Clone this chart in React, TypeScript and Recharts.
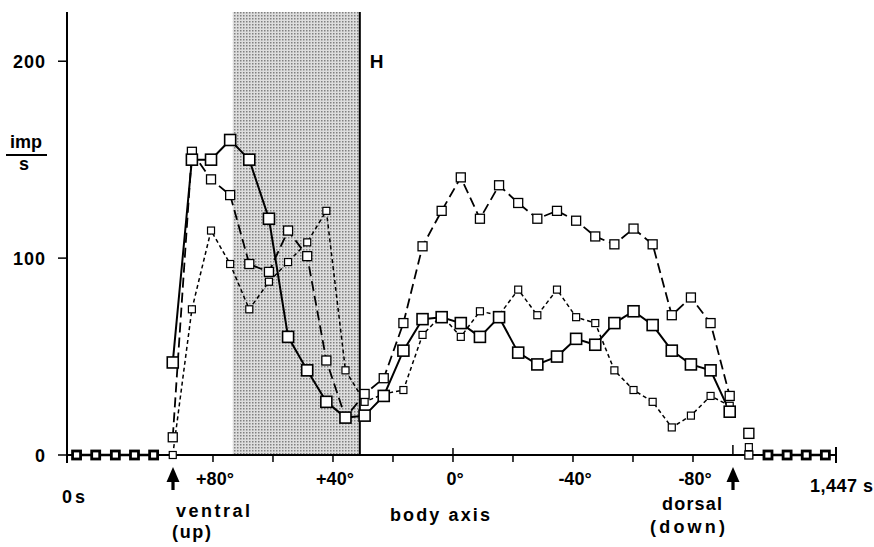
import React from 'react';
import { ComposedChart, Line, XAxis, YAxis, ReferenceArea, ReferenceLine } from 'recharts';

// Bin centre times (s) of the 40 samples over the 1,447 s run
const times = [18, 54, 91, 127, 163, 199, 235, 271, 307, 343, 380, 416, 452, 488, 524, 560, 596, 633, 669, 705,
  741, 777, 813, 849, 885, 922, 958, 994, 1030, 1066, 1102, 1138, 1174, 1211, 1247, 1283, 1319, 1355, 1391, 1427];

// index of the first sample of the rotation traces
const SERIES_START = 5;

// imp/s, large squares, solid line
const solidValues = [47, 150, 150, 160, 150, 120, 60, 43, 27, 19, 20, 30, 53, 69, 70, 67, 60, 70, 52, 46,
  50, 59, 56, 67, 73, 66, 53, 46, 43, 22];
// imp/s, medium squares, long dashes
const dashedValues = [9, 154, 140, 132, 97, 93, 114, 101, 48, 19, 31, 39, 67, 106, 124, 141, 120, 137, 128, 120,
  124, 119, 111, 107, 115, 107, 71, 80, 67, 30];
// imp/s, small squares, short dashes
const dottedValues = [0, 74, 114, 97, 74, 88, 98, 108, 124, 43, 27, 31, 33, 61, 71, 60, 73, 71, 84, 71,
  84, 70, 67, 43, 33, 27, 14, 20, 30, 25];

// resting discharge before and after the rotation
const baselineBefore = [0, 0, 0, 0, 0];
const baselineAfter = [0, 0, 0, 0];
const AFTER_START = 36;

// single samples just after the dorsal stop
const AFTER_DORSAL_INDEX = 35;
const afterDorsalLarge = 11;
const afterDorsalSmall = 4;
const afterDorsalZero = 0;

// angle ticks (degrees) and their labels
const degreeTicks = [80, 60, 40, 20, 0, -20, -40, -60, -80];
const degreeLabels: Record<string, string> = { '80': '+80°', '40': '+40°', '0': '0°', '-40': '-40°', '-80': '-80°' };
const ZERO_DEG_S = 726.3;
const S_PER_DEG = 5.645;
const RUN_END_S = 1447;
const DORSAL_S = 1253;
const HOLD_START_S = 312;
const HOLD_END_S = 551;

const yTicks = [0, 100, 200];

const degToSec = (d: number) => ZERO_DEG_S - d * S_PER_DEG;
const xTicks = [0, ...degreeTicks.map(degToSec), DORSAL_S, RUN_END_S];

const inRange = (arr: number[], start: number, k: number) =>
  k >= start && k < start + arr.length ? arr[k - start] : null;

const data = times.map((t, k) => ({
  t,
  solid: inRange(solidValues, SERIES_START, k),
  dashed: inRange(dashedValues, SERIES_START, k),
  dotted: inRange(dottedValues, SERIES_START, k),
  base: k < baselineBefore.length ? baselineBefore[k] : inRange(baselineAfter, AFTER_START, k),
  postL: k === AFTER_DORSAL_INDEX ? afterDorsalLarge : null,
  postS: k === AFTER_DORSAL_INDEX ? afterDorsalSmall : null,
  postZ: k === AFTER_DORSAL_INDEX ? afterDorsalZero : null,
}));

const FONT = '"Liberation Sans", Arial, Helvetica, sans-serif';

const squareDot = (size: number, sw: number, name: string) => (props: any) => {
  const { cx, cy, index, value } = props;
  if (cx == null || cy == null || value == null || Number.isNaN(cy)) return <g key={`${name}-${index}`} />;
  return (
    <rect key={`${name}-${index}`} x={cx - size / 2} y={cy - size / 2} width={size} height={size}
      fill="#fff" stroke="#000" strokeWidth={sw} />
  );
};

const XTick = (props: any) => {
  const { x, y, payload } = props;
  const v = payload.value as number;
  if (v === 0 || v === RUN_END_S) {
    return <line x1={x} x2={x} y1={y - 8} y2={y + 8} stroke="#000" strokeWidth={2} />;
  }
  if (v === DORSAL_S) {
    return <line x1={x} x2={x} y1={y - 10} y2={y} stroke="#000" strokeWidth={1.5} />;
  }
  const deg = Math.round((ZERO_DEG_S - v) / S_PER_DEG);
  const label = degreeLabels[String(deg)];
  return (
    <g>
      <line x1={x} x2={x} y1={deg === 0 ? y - 7 : y} y2={y + 7} stroke="#000" strokeWidth={1.5} />
      {label && (
        <text x={x + 2} y={y + 30} textAnchor="middle" fontFamily={FONT} fontSize={18} fontWeight="bold" fill="#000">
          {label}
        </text>
      )}
    </g>
  );
};

const YTick = (props: any) => {
  const { x, y, payload } = props;
  return (
    <g>
      <line x1={x - 9} x2={x} y1={y} y2={y} stroke="#000" strokeWidth={1.5} />
      <text x={x - 21} y={y + 6.5} textAnchor="end" fontFamily={FONT} fontSize={18} fontWeight="bold"
        letterSpacing={1} fill="#000">
        {payload.value}
      </text>
    </g>
  );
};

const Arrow = ({ x }: { x: number }) => (
  <g>
    <polygon points={`${x},467 ${x - 6.5},482 ${x + 6.5},482`} fill="#000" />
    <rect x={x - 1.6} y={480} width={3.2} height={10} fill="#000" />
  </g>
);

const txt = { fontFamily: FONT, fontSize: 18, fontWeight: 'bold' as const, fill: '#000' };

export default function App() {
  return (
    <div style={{ position: 'absolute', left: 0, top: 0, width: 874, height: 547, background: '#fff' }}>
      <div style={{ position: 'absolute', left: 0, top: 0 }}>
        <ComposedChart width={874} height={547} data={data} margin={{ top: 12, right: 38, bottom: 91, left: 66 }}>
          <defs>
            <pattern id="stipple" width="3" height="3" patternUnits="userSpaceOnUse">
              <rect width="3" height="3" fill="#dedede" />
              <rect width="1.5" height="1.5" fill="#808080" />
            </pattern>
          </defs>
          <ReferenceArea x1={HOLD_START_S} x2={HOLD_END_S} y1={0} y2={225} fill="url(#stipple)" fillOpacity={1}
            stroke="none" />
          <ReferenceLine x={HOLD_END_S} stroke="#000" strokeWidth={2} />
          <XAxis dataKey="t" type="number" domain={[0, RUN_END_S]} ticks={xTicks} interval={0} height={1}
            tickSize={0} tickMargin={0} tickLine={false} tick={<XTick />}
            axisLine={{ stroke: '#000', strokeWidth: 2 }} />
          <YAxis type="number" domain={[0, 225]} ticks={yTicks} interval={0} width={1} tickSize={0} tickMargin={0}
            tickLine={false} tick={<YTick />} axisLine={{ stroke: '#000', strokeWidth: 2 }} />
          <Line dataKey="dotted" stroke="#000" strokeWidth={1.5} strokeDasharray="4 3" isAnimationActive={false}
            dot={squareDot(7, 1.2, 'dt')} activeDot={false} connectNulls={false} />
          <Line dataKey="dashed" stroke="#000" strokeWidth={1.8} strokeDasharray="10 5" isAnimationActive={false}
            dot={squareDot(9, 1.3, 'da')} activeDot={false} connectNulls={false} />
          <Line dataKey="solid" stroke="#000" strokeWidth={2} isAnimationActive={false}
            dot={squareDot(11, 1.6, 'so')} activeDot={false} connectNulls={false} />
          <Line dataKey="base" stroke="#000" strokeWidth={2.5} isAnimationActive={false}
            dot={squareDot(8, 2.8, 'ba')} activeDot={false} connectNulls={false} />
          <Line dataKey="postZ" stroke="#000" isAnimationActive={false} dot={squareDot(8, 1.3, 'pz')} activeDot={false} />
          <Line dataKey="postS" stroke="#000" isAnimationActive={false} dot={squareDot(7, 1.2, 'ps')} activeDot={false} />
          <Line dataKey="postL" stroke="#000" isAnimationActive={false} dot={squareDot(10, 1.4, 'pl')} activeDot={false} />
        </ComposedChart>
      </div>
      <svg width={874} height={547} style={{ position: 'absolute', left: 0, top: 0, pointerEvents: 'none' }}>
        <text x={376.5} y={67.5} textAnchor="middle" {...txt} fontSize={19}>H</text>
        <text x={26} y={148} textAnchor="middle" {...txt}>imp</text>
        <line x1={6} x2={47} y1={155} y2={155} stroke="#000" strokeWidth={2} />
        <text x={24} y={170} textAnchor="middle" {...txt}>s</text>
        <text x={62} y={503} {...txt} textLength={23} lengthAdjust="spacing">0s</text>
        <text x={810} y={492} {...txt} textLength={63} lengthAdjust="spacing">1,447 s</text>
        <text x={176} y={517} {...txt} textLength={74} lengthAdjust="spacing">ventral</text>
        <text x={172} y={538} {...txt} textLength={39} lengthAdjust="spacing">(up)</text>
        <text x={390} y={521} {...txt} textLength={100} lengthAdjust="spacing">body axis</text>
        <text x={662} y={510} {...txt} textLength={60} lengthAdjust="spacing">dorsal</text>
        <text x={650} y={533} {...txt} textLength={75} lengthAdjust="spacing">(down)</text>
        <Arrow x={173} />
        <Arrow x={733} />
      </svg>
    </div>
  );
}
